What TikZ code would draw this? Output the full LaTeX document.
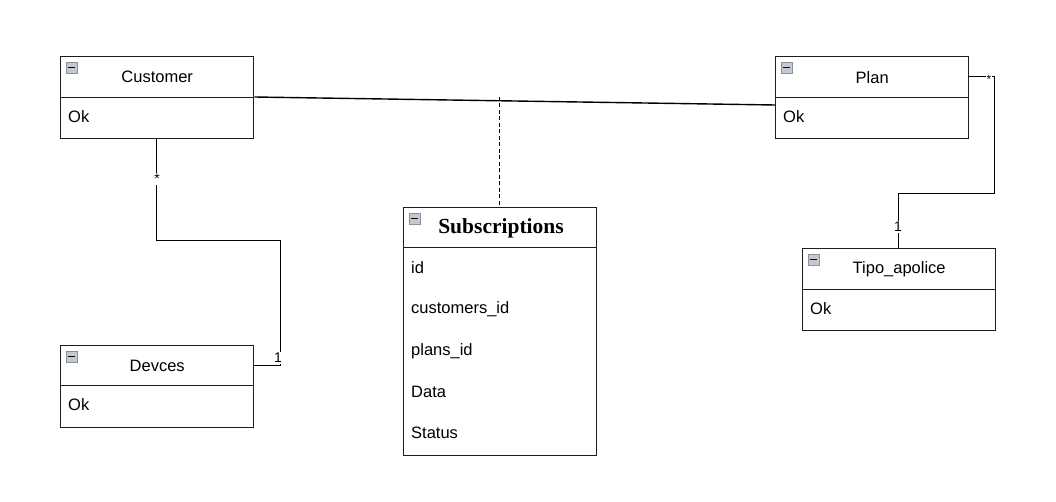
\documentclass[tikz,border=0pt]{standalone}
\usepackage{fontspec}
\setmainfont{Liberation Sans}
\newfontfamily\titlefont{Liberation Serif}
\definecolor{linec}{HTML}{1E1E1E}
\definecolor{iconfill}{HTML}{C4C8D0}
\definecolor{icondraw}{HTML}{8A8F99}
\tikzset{
  boxpart/.style={draw=linec, line width=1.4pt, minimum width=193pt, anchor=north west, inner sep=0pt, font=\fontsize{16.5}{19}\selectfont},
  rowtext/.style={anchor=west, inner sep=0pt, font=\fontsize{16.5}{19}\selectfont},
  conn/.style={draw=black, line width=1.4pt},
  mult/.style={fill=white, inner sep=1pt, font=\fontsize{14}{16}\selectfont},
  umlicon/.style={fill=iconfill, draw=icondraw, line width=0.6pt}
}
\newcommand\drawumlicon[1]{%
  \draw[umlicon] ([shift={(6,6)}]#1.north west) rectangle ++(11,11);
  \draw[black, line width=1.4pt] ([shift={(8,11.5)}]#1.north west) -- ++(7,0);
}
\begin{document}
\begin{tikzpicture}[x=1pt, y=-1pt]
\useasboundingbox (0,0) rectangle (1056,502);

% Customer
\node[boxpart, minimum height=41pt] (cust) at (60,56) {Customer};
\node[boxpart, minimum height=41pt] (custbody) at (60,97) {};
\node[rowtext] (custok) at (68,117) {Ok};
\drawumlicon{cust}

% Plan
\node[boxpart, minimum height=41pt] (plan) at (775,56) {Plan};
\node[boxpart, minimum height=41pt] (planbody) at (775,97) {};
\node[rowtext] (planok) at (783,117) {Ok};
\drawumlicon{plan}

% Subscriptions
\node[boxpart, minimum height=40pt] (sub) at (403,207) {};
\node[font=\titlefont\bfseries\fontsize{21.5}{24}\selectfont, inner sep=0pt] (subtitle) at (501,228.5) {Subscriptions};
\node[boxpart, minimum height=208pt] (subbody) at (403,247) {};
\node[rowtext] (r1) at (411,268) {id};
\node[rowtext] (r2) at (411,309) {customers\_id};
\node[rowtext] (r3) at (411,351) {plans\_id};
\node[rowtext] (r4) at (411,392) {Data};
\node[rowtext] (r5) at (411,433) {Status};
\drawumlicon{sub}

% Tipo_apolice
\node[boxpart, minimum height=41pt] (tipo) at (802,248) {Tipo\_apolice};
\node[boxpart, minimum height=41pt] (tipobody) at (802,289) {};
\node[rowtext] (tipook) at (810,309) {Ok};
\drawumlicon{tipo}

% Devces
\node[boxpart, minimum height=40pt] (dev) at (60,345) {Devces};
\node[boxpart, minimum height=42pt] (devbody) at (60,385) {};
\node[rowtext] (devok) at (68,405) {Ok};
\drawumlicon{dev}

% Customer -- Plan association with association class
\draw[conn] (custbody.north east) -- ([yshift=-8pt]planbody.north west);
\coordinate (assoc) at (499.5,97);
\draw[conn, dash pattern=on 4pt off 2.5pt] (assoc) -- (assoc |- sub.north);

% Customer -- Devces
\coordinate (cd1) at (156.5,240.5);
\coordinate (cd2) at (280.5,240.5);
\coordinate (cd3) at (280.5,365.5);
\draw[conn] (custbody.south -| cd1) -- (cd1) -- (cd2) -- (cd3) -- (cd3 -| dev.east);
\node[mult] (m1) at (157,179) {*};
\node[mult] (m2) at (278,358) {1};

% Plan -- Tipo_apolice
\coordinate (pt1) at (994.5,76.5);
\coordinate (pt2) at (994.5,193.5);
\coordinate (pt3) at (898.5,193.5);
\draw[conn] (plan.east |- pt1) -- (pt1) -- (pt2) -- (pt3) -- (pt3 |- tipo.north);
\node[mult, inner sep=0.5pt, font=\fontsize{12}{14}\selectfont] (m3) at (989,79) {*};
\node[mult] (m4) at (898,227) {1};
\end{tikzpicture}
\end{document}
